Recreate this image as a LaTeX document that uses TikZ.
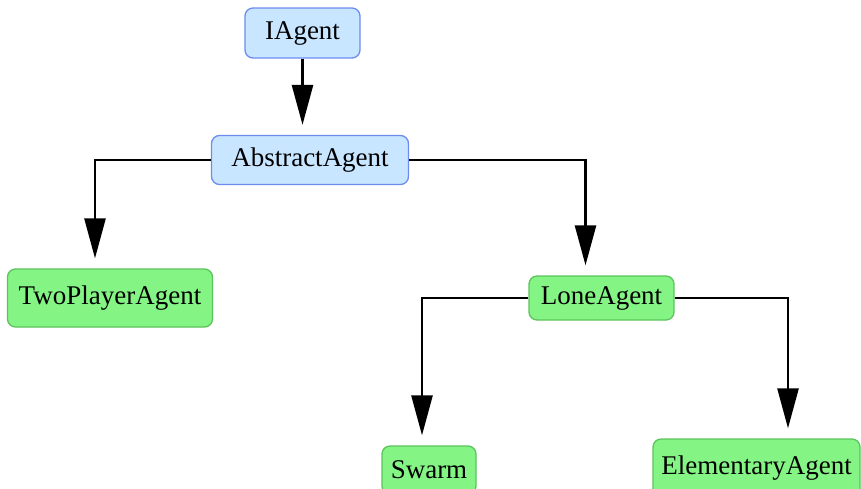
\documentclass[tikz,border=0pt]{standalone}
\usepackage{fontspec}
\setmainfont{Liberation Serif}
\usetikzlibrary{arrows.meta}
\definecolor{bluefill}{HTML}{C8E6FF}
\definecolor{blueline}{HTML}{6E8CF0}
\definecolor{greenfill}{HTML}{84F584}
\definecolor{greenline}{HTML}{5CC35C}
\tikzset{
  base/.style={rounded corners=8pt, line width=1.3pt, inner sep=0pt, font=\fontsize{27}{30}\selectfont, anchor=center},
  bluebox/.style={base, fill=bluefill, draw=blueline},
  greenbox/.style={base, fill=greenfill, draw=greenline},
  arr/.style={line width=2.6pt, -{Triangle[length=40pt,width=21pt]}, shorten >=10pt}
}
\begin{document}
\begin{tikzpicture}[x=1pt,y=-1pt]
\useasboundingbox (0,0) rectangle (861,488);
\node[bluebox, minimum width=115pt, minimum height=50pt] (ia) at (302.5,33) {IAgent};
\node[bluebox, minimum width=197pt, minimum height=49pt] (abs) at (310,160) {AbstractAgent};
\node[greenbox, minimum width=205pt, minimum height=58pt] (two) at (110,298) {TwoPlayerAgent};
\node[greenbox, minimum width=145pt, minimum height=44pt] (lone) at (601.5,298) {LoneAgent};
\node[greenbox, minimum width=94pt, minimum height=48pt] (sw) at (429,470) {Swarm};
\node[greenbox, minimum width=207pt, minimum height=58pt] (el) at (756.5,468) {ElementaryAgent};
\draw[arr] (ia.south) -- (abs.north -| ia.south);
\draw[arr] (abs.west) -| ([xshift=-15pt]two.north);
\draw[arr] (abs.east) -| ([xshift=-16pt]lone.north);
\draw[arr] (lone.west) -| ([xshift=-7pt]sw.north);
\draw[arr] (lone.east) -| ([xshift=31.5pt]el.north);
\end{tikzpicture}
\end{document}
